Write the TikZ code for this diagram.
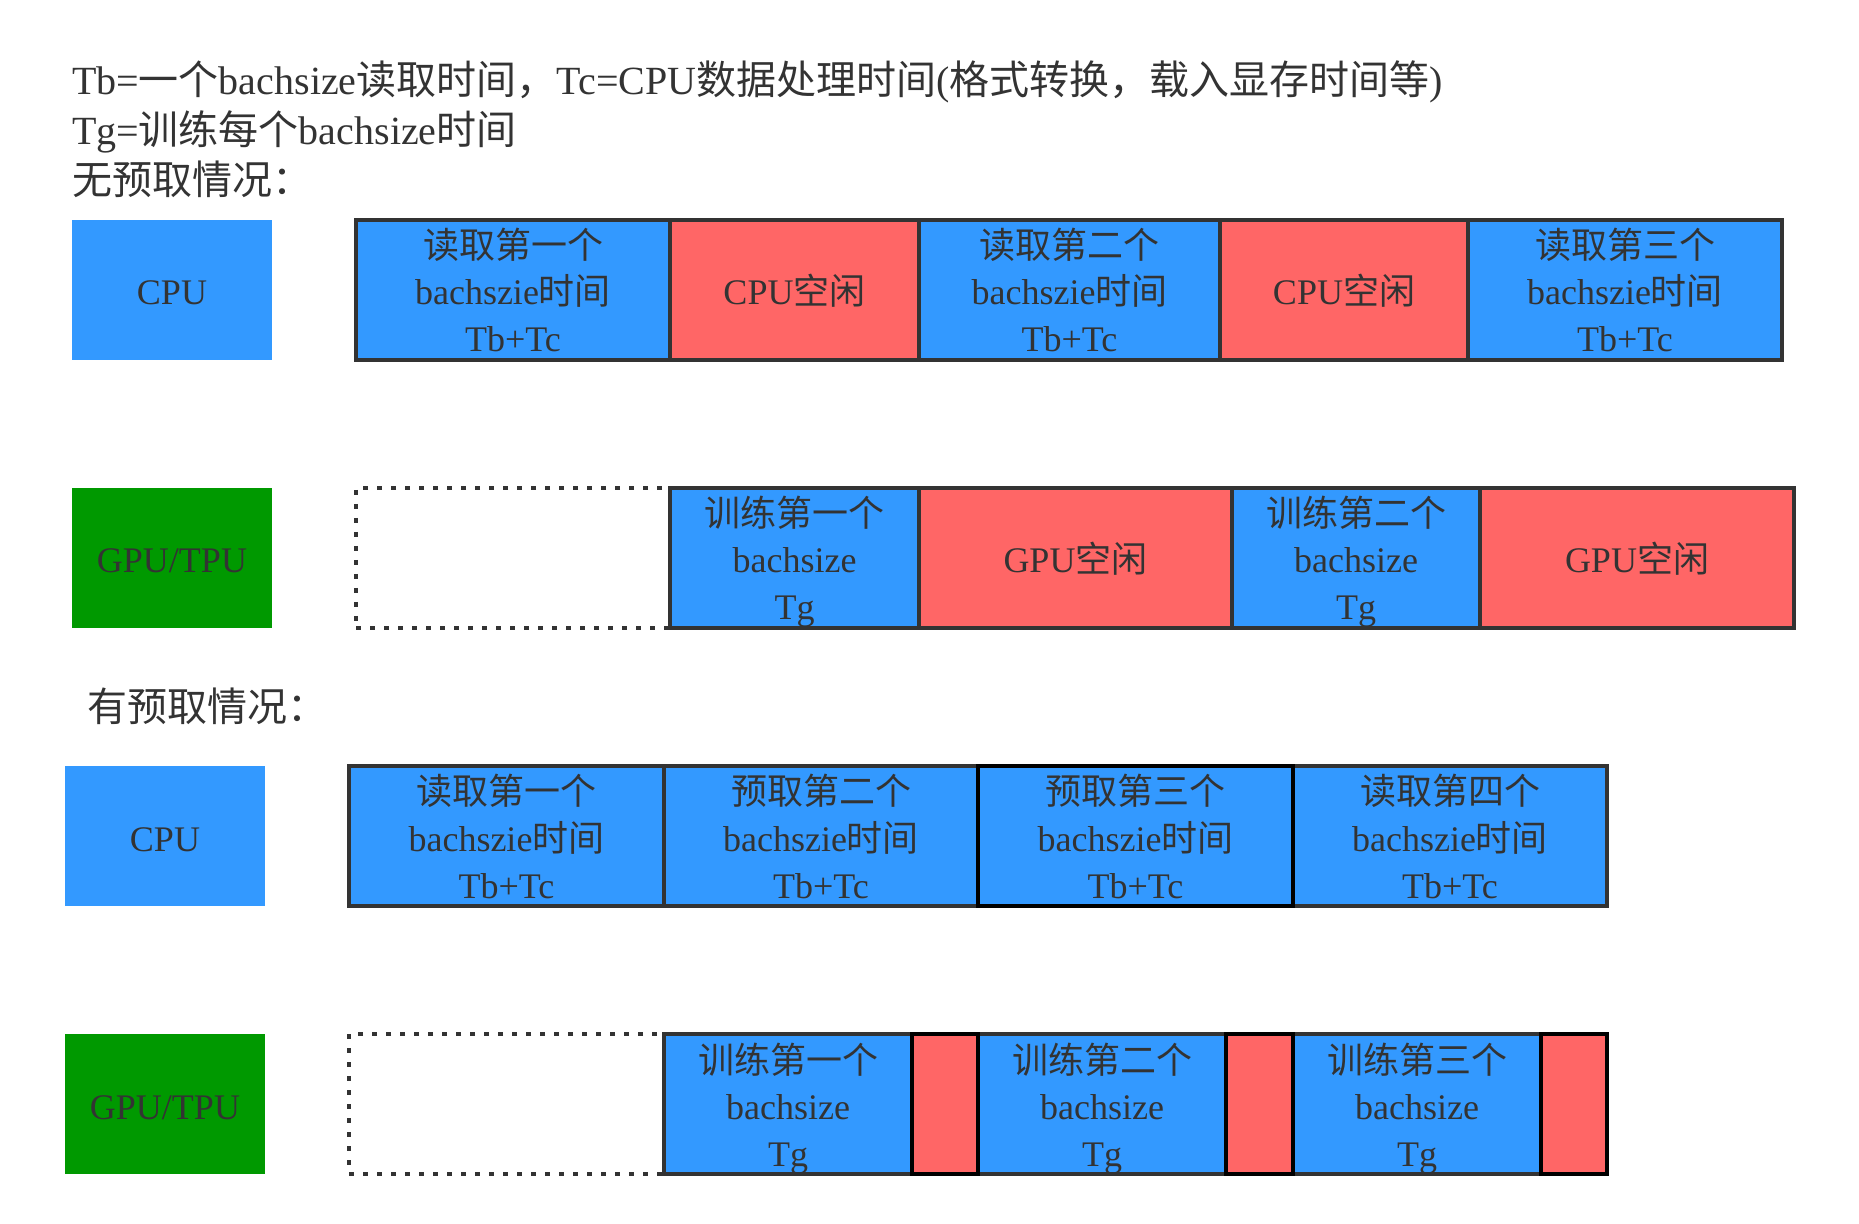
\documentclass[tikz,border=0pt]{standalone}
\usepackage{fontspec}
\setmainfont{Liberation Serif}
\newfontfamily\cjk{Noto Sans CJK SC}
\newcommand\zh[1]{{\cjk #1}}
\usetikzlibrary{fit}
\definecolor{cblue}{HTML}{3399FF}
\definecolor{cred}{HTML}{FF6666}
\definecolor{cgreen}{HTML}{009900}
\definecolor{cdark}{HTML}{333333}
\tikzset{
  cell/.style={draw=cdark, line width=2pt, inner sep=0pt, outer sep=0pt},
  blk/.style={cell, draw=black},
  dotbox/.style={draw=cdark, line width=2pt, dash pattern=on 2.5pt off 4.5pt, inner sep=0pt, outer sep=0pt},
  plain/.style={draw=none, inner sep=0pt, outer sep=0pt},
  txt/.style={text=cdark, font=\fontsize{18pt}{23pt}\selectfont, inner sep=0pt, outer sep=0pt, anchor=base},
  ttl/.style={text=cdark, font=\fontsize{20pt}{25pt}\selectfont, inner sep=0pt, outer sep=0pt, anchor=base west},
}
\newcommand\threelines[4]{%
  \node[txt] (#1-l1) at ([yshift=15.5pt]#1.center) {#2};
  \node[txt] (#1-l2) at ([yshift=-7.5pt]#1.center) {#3};
  \node[txt] (#1-l3) at ([yshift=-31pt]#1.center) {#4};}
\newcommand\oneline[2]{%
  \node[txt] (#1-l) at ([yshift=-7.5pt]#1.center) {#2};}
\begin{document}
\begin{tikzpicture}[x=0.5pt, y=-0.5pt]
\useasboundingbox (0,0) rectangle (1859,1224);
% titles
\node[ttl] (t1) at (72,95) {Tb=\zh{一个}bachsize\zh{读取时间，}Tc=CPU\zh{数据处理时间}(\zh{格式转换，载入显存时间等})};
\node[ttl] (t2) at (72,145) {Tg=\zh{训练每个}bachsize\zh{时间}};
\node[ttl] (t3) at (72,195) {\zh{无预取情况：}};
\node[ttl] (t4) at (87,722) {\zh{有预取情况：}};
% ---- no prefetch: CPU ----
\node[plain, fill=cblue, fit={(72,220) (272,360)}] (cpu1) {};
\oneline{cpu1}{CPU}
\node[cell, fill=cblue, fit={(356,220) (670,360)}] (r1a) {};
\node[cell, fill=cred,  fit={(670,220) (919,360)}] (r1b) {};
\node[cell, fill=cblue, fit={(919,220) (1220,360)}] (r1c) {};
\node[cell, fill=cred,  fit={(1220,220) (1468,360)}] (r1d) {};
\node[cell, fill=cblue, fit={(1468,220) (1782,360)}] (r1e) {};
\threelines{r1a}{\zh{读取第一个}}{bachszie\zh{时间}}{Tb+Tc}
\oneline{r1b}{CPU\zh{空闲}}
\threelines{r1c}{\zh{读取第二个}}{bachszie\zh{时间}}{Tb+Tc}
\oneline{r1d}{CPU\zh{空闲}}
\threelines{r1e}{\zh{读取第三个}}{bachszie\zh{时间}}{Tb+Tc}
% ---- no prefetch: GPU ----
\node[plain, fill=cgreen, fit={(72,488) (272,628)}] (gpu1) {};
\oneline{gpu1}{GPU/TPU}
\node[dotbox, fit={(356,488) (670,628)}] (r2d) {};
\node[cell, fill=cblue, fit={(670,488) (919,628)}] (r2a) {};
\node[cell, fill=cred,  fit={(919,488) (1232,628)}] (r2b) {};
\node[cell, fill=cblue, fit={(1232,488) (1480,628)}] (r2c) {};
\node[cell, fill=cred,  fit={(1480,488) (1794,628)}] (r2e) {};
\threelines{r2a}{\zh{训练第一个}}{bachsize}{Tg}
\oneline{r2b}{GPU\zh{空闲}}
\threelines{r2c}{\zh{训练第二个}}{bachsize}{Tg}
\oneline{r2e}{GPU\zh{空闲}}
% ---- prefetch: CPU ----
\node[plain, fill=cblue, fit={(65,766) (265,906)}] (cpu2) {};
\oneline{cpu2}{CPU}
\node[cell, fill=cblue, fit={(349,766) (664,906)}] (r3a) {};
\node[cell, fill=cblue, fit={(664,766) (978,906)}] (r3b) {};
\node[cell, fill=cblue, fit={(1293,766) (1607,906)}] (r3d) {};
\node[blk,  fill=cblue, fit={(978,766) (1293,906)}] (r3c) {};
\threelines{r3a}{\zh{读取第一个}}{bachszie\zh{时间}}{Tb+Tc}
\threelines{r3b}{\zh{预取第二个}}{bachszie\zh{时间}}{Tb+Tc}
\threelines{r3c}{\zh{预取第三个}}{bachszie\zh{时间}}{Tb+Tc}
\threelines{r3d}{\zh{读取第四个}}{bachszie\zh{时间}}{Tb+Tc}
% ---- prefetch: GPU ----
\node[plain, fill=cgreen, fit={(65,1034) (265,1174)}] (gpu2) {};
\oneline{gpu2}{GPU/TPU}
\node[dotbox, fit={(349,1034) (664,1174)}] (r4d) {};
\node[cell, fill=cblue, fit={(664,1034) (912,1174)}] (r4a) {};
\node[cell, fill=cblue, fit={(978,1034) (1226,1174)}] (r4c) {};
\node[cell, fill=cblue, fit={(1293,1034) (1541,1174)}] (r4f) {};
\node[blk,  fill=cred,  fit={(912,1034) (978,1174)}] (r4b) {};
\node[blk,  fill=cred,  fit={(1226,1034) (1293,1174)}] (r4e) {};
\node[blk,  fill=cred,  fit={(1541,1034) (1607,1174)}] (r4g) {};
\threelines{r4a}{\zh{训练第一个}}{bachsize}{Tg}
\threelines{r4c}{\zh{训练第二个}}{bachsize}{Tg}
\threelines{r4f}{\zh{训练第三个}}{bachsize}{Tg}
\end{tikzpicture}
\end{document}
